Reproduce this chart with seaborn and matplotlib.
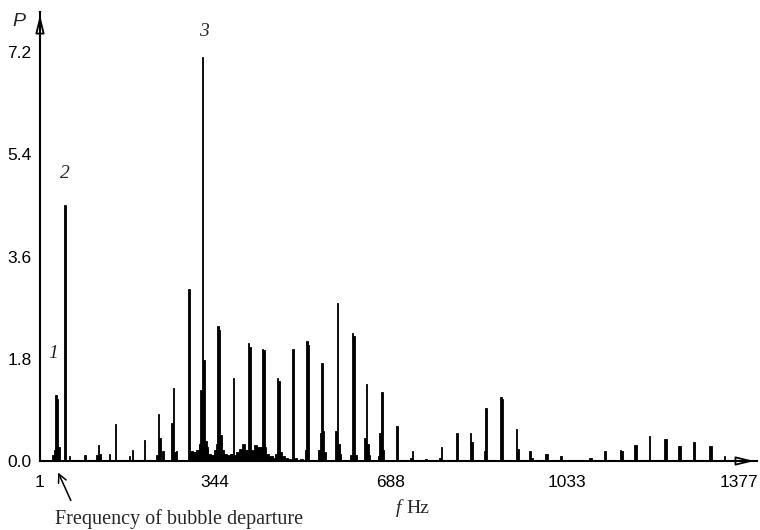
import matplotlib
matplotlib.use("Agg")
import matplotlib.pyplot as plt
import matplotlib.transforms as mtransforms
import seaborn as sns

# Main spectral lines: frequency (Hz) and power P
peak_freq = [32, 50, 60, 88, 117, 138, 150, 175, 181, 205, 233, 242, 263, 269,
             293, 320, 350, 380, 409, 438, 468, 496, 525, 555, 584, 613, 641,
             670, 700, 729, 758, 787, 817, 845, 875, 903, 933, 962, 991, 1020,
             1078, 1108, 1137, 1166, 1196, 1224, 1253, 1283, 1311, 1341]
peak_power = [1.16, 4.5, 0.09, 0.10, 0.28, 0.12, 0.66, 0.08, 0.19, 0.37, 0.83,
              0.17, 1.28, 0.17, 3.02, 7.11, 2.38, 1.47, 2.07, 1.98, 1.46, 1.97,
              2.11, 1.72, 2.78, 2.25, 1.36, 1.22, 0.62, 0.18, 0.03, 0.25, 0.50,
              0.50, 0.93, 1.12, 0.56, 0.18, 0.12, 0.08, 0.05, 0.18, 0.19, 0.29,
              0.44, 0.39, 0.27, 0.34, 0.27, 0.08]

# Neighbouring-bin components around the main lines
side_freq = [26, 29, 35, 38, 114, 120, 230, 236, 260, 266, 296, 314, 317, 323,
             326, 329, 347, 353, 356, 359, 377, 383, 406, 412, 415, 432, 435,
             441, 444, 465, 471, 474, 522, 528, 549, 552, 558, 561, 581, 587,
             590, 610, 616, 619, 638, 644, 647, 664, 667, 673, 726, 784, 848,
             872, 906, 936, 965, 994, 1081, 1140, 1169, 1227, 1256, 1314]
side_power = [0.10, 0.20, 1.10, 0.25, 0.10, 0.12, 0.10, 0.40, 0.67, 0.15, 0.10,
              0.30, 1.25, 1.78, 0.35, 0.20, 0.30, 2.30, 0.46, 0.20, 0.12, 0.10,
              0.20, 2.00, 0.10, 0.15, 0.25, 1.95, 0.25, 0.12, 1.40, 0.15, 0.20,
              2.05, 0.20, 0.50, 0.52, 0.15, 0.52, 0.30, 0.12, 0.10, 2.20, 0.10,
              0.40, 0.30, 0.10, 0.08, 0.50, 0.20, 0.05, 0.05, 0.34, 0.18, 1.10,
              0.21, 0.05, 0.12, 0.05, 0.18, 0.29, 0.38, 0.27, 0.27]

# Broadband noise floor in the mid band
floor_freq = [298, 304, 310, 316, 328, 334, 340, 346, 358, 364, 370, 376, 386,
              392, 398, 404, 416, 422, 428, 446, 452, 458, 476, 482, 488, 502, 512]
floor_power = [0.18, 0.15, 0.20, 0.28, 0.25, 0.12, 0.10, 0.20, 0.20, 0.12, 0.10,
               0.12, 0.15, 0.22, 0.30, 0.20, 0.20, 0.28, 0.25, 0.12, 0.08, 0.05,
               0.08, 0.05, 0.04, 0.06, 0.04]

x_ticks = [1, 344, 688, 1033, 1377]
x_tick_labels = ["1", "344", "688", "1033", "1377"]
y_ticks = [0.0, 1.8, 3.6, 5.4, 7.2]
y_tick_labels = ["0.0", "1.8", "3.6", "5.4", "7.2"]
peak_labels = ["1", "2", "3"]

sns.set_theme(style="white")
plt.rcParams["font.family"] = ["Liberation Sans Narrow", "Liberation Sans", "DejaVu Sans"]

W, H = 760, 530
fig = plt.figure(figsize=(W / 100, H / 100), dpi=100)
ax = fig.add_axes([40 / W, 69 / H, 717 / W, 449 / H])

bar_kw = dict(color="black", edgecolor="black", linewidth=0.6, alpha=1.0, ax=ax)
sns.histplot(x=floor_freq, weights=floor_power, binwidth=6, binrange=(0.5, 1404.5), **bar_kw)
sns.histplot(x=side_freq, weights=side_power, binwidth=3, binrange=(0.5, 1403.5), **bar_kw)
sns.histplot(x=peak_freq, weights=peak_power, binwidth=3, binrange=(0.5, 1403.5), **bar_kw)

ax.set_xlim(1, 1405.5)
ax.set_ylim(0, 7.905)
ax.set_xlabel("")
ax.set_ylabel("")

for side in ("top", "right"):
    ax.spines[side].set_visible(False)
for side in ("left", "bottom"):
    ax.spines[side].set_color("black")
    ax.spines[side].set_linewidth(1.5)
    ax.spines[side].set_zorder(5)

ax.set_xticks(x_ticks)
ax.set_xticklabels(x_tick_labels)
ax.set_yticks(y_ticks)
ax.set_yticklabels(y_tick_labels)
ax.tick_params(axis="x", length=0, pad=10, labelsize=12.5, colors="black")
ax.tick_params(axis="y", length=0, pad=6, labelsize=12.5, colors="black")

# keep the last frequency label inside the figure
last = ax.get_xticklabels()[-1]
last.set_transform(last.get_transform() + mtransforms.ScaledTranslation(-4 / 100, 0, fig.dpi_scale_trans))

# axis arrowheads
arrow_kw = dict(arrowstyle="-|>,head_length=0.9,head_width=0.22", fc="white", ec="black", lw=1.3)
ax.annotate("", xy=(0, 1.0), xytext=(0, 0.96), xycoords="axes fraction",
            arrowprops=arrow_kw, annotation_clip=False)
ax.annotate("", xy=(1.0, 0), xytext=(0.97, 0), xycoords="axes fraction",
            arrowprops=arrow_kw, annotation_clip=False)


def px(x, y):
    return x / W, 1 - y / H


serif = ["Liberation Serif", "DejaVu Serif"]
fig.text(*px(19, 22), "P", fontsize=14, style="italic", ha="center", va="center",
         family=["Liberation Sans", "DejaVu Sans"])
for label, (x, y) in zip(peak_labels, [(53.5, 354), (64.5, 174), (204, 31)]):
    fig.text(*px(x, y), label, fontsize=14, style="italic", ha="center", va="center", family=serif)

fig.text(*px(398, 513), "f", fontsize=14, style="italic", ha="center", va="baseline", family=serif)
fig.text(*px(406, 513), "Hz", fontsize=14, ha="left", va="baseline", family=serif)
fig.text(*px(55, 524), "Frequency of bubble departure", fontsize=14.5, ha="left",
         va="baseline", family=serif)
fig.add_artist(matplotlib.patches.FancyArrowPatch(
    posA=(72, H - 503), posB=(57, H - 470), transform=None,
    arrowstyle="->,head_length=6,head_width=3", color="black", lw=1.1))

fig.savefig("out.png", dpi=100)
